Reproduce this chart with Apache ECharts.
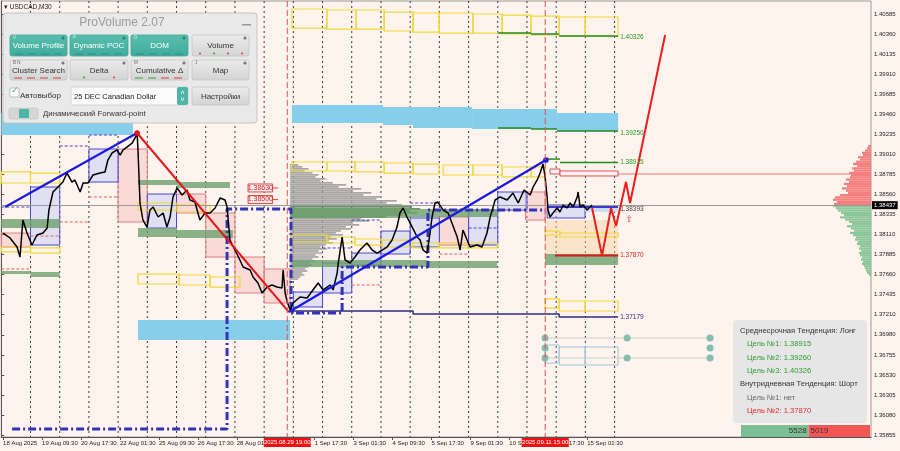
<!DOCTYPE html>
<html><head><meta charset="utf-8">
<script src="https://cdn.jsdelivr.net/npm/echarts@6/dist/echarts.min.js"></script>
<style>html,body{margin:0;padding:0;background:#fef4ed;}#c{width:900px;height:451px;}</style>
</head><body><div id="c"></div>
<script>
// ---------- DATA (x = trading-day index, 18 Aug 2025 = 0; y = price) ----------
const xLabelDays = [0.06, 1.396, 2.729, 4.0625, 5.396, 6.729, 8.0625, 10.729, 12.0625, 13.396, 14.729, 16.0625, 17.396, 18.729, 20.0625];
const xLabelTexts = ['18 Aug 2025','19 Aug 09:30','20 Aug 17:30','22 Aug 01:30','25 Aug 09:30','26 Aug 17:30','28 Aug 01:30','1 Sep 17:30','3 Sep 01:30','4 Sep 09:30','5 Sep 17:30','9 Sep 01:30','10 Sep 09:30','12 Sep 17:30','15 Sep 01:30'];
const yTickLabels = ['1.40585','1.40360','1.40135','1.39910','1.39685','1.39460','1.39235','1.39010','1.38785','1.38560','1.38335','1.38110','1.37885','1.37660','1.37435','1.37210','1.36980','1.36755','1.36530','1.36305','1.36080','1.35855'];
const daySeparators = [1,2,3,4,5,6,7,8,9,10,11,12,13,14,15,16,17,18,19,20,21];
const forwardPointDays = [9.7917, 18.625];
const forwardPointLabels = ['2025.08.29 19:00','2025.09.11 15:00'];
const currentPrice = 1.38437;

const priceDays = [0.06,0.30,0.54,0.64,0.74,0.88,1.05,1.22,1.43,1.57,1.63,1.77,1.94,2.11,2.25,2.42,2.52,2.70,2.80,2.97,3.14,3.38,3.55,3.65,3.79,3.96,4.07,4.17,4.30,4.48,4.58,4.65,4.68,4.75,4.85,4.99,5.09,5.20,5.37,5.54,5.67,5.78,5.88,6.02,6.19,6.36,6.46,6.63,6.80,6.98,7.15,7.32,7.49,7.66,7.73,7.83,8.00,8.17,8.28,8.52,8.62,8.79,8.93,9.10,9.27,9.44,9.61,9.65,9.72,9.79,9.89,9.99,10.23,10.47,10.67,10.85,11.02,11.26,11.36,11.50,11.53,11.67,11.77,11.94,12.11,12.28,12.52,12.70,12.87,13.04,13.21,13.38,13.55,13.65,13.76,13.89,14.07,14.24,14.34,14.44,14.58,14.68,14.75,14.85,14.95,15.13,15.30,15.43,15.61,15.71,15.81,15.95,16.05,16.29,16.46,16.63,16.74,16.91,17.08,17.32,17.52,17.70,17.90,18.11,18.21,18.35,18.45,18.55,18.62,18.69,18.72,18.79,18.89,19.03,19.13,19.24,19.37,19.48,19.58,19.72,19.75,19.82,19.92,20.06,20.16,20.23];
const priceValues = [1.38124,1.38068,1.37967,1.37854,1.38270,1.38124,1.37989,1.38102,1.38124,1.38180,1.38382,1.38585,1.38641,1.38697,1.38798,1.38697,1.38720,1.38585,1.38686,1.38686,1.38776,1.38798,1.38810,1.38944,1.39023,1.39057,1.39000,1.39057,1.39090,1.39135,1.39192,1.39248,1.39057,1.38461,1.38270,1.38191,1.38382,1.38416,1.38304,1.38349,1.38191,1.38304,1.38529,1.38630,1.38551,1.38607,1.38495,1.38472,1.38270,1.38349,1.38349,1.38405,1.38517,1.38495,1.38416,1.38045,1.37933,1.37821,1.37742,1.37708,1.37630,1.37562,1.37450,1.37517,1.37540,1.37517,1.37506,1.37708,1.37450,1.37349,1.37259,1.37338,1.37405,1.37394,1.37484,1.37562,1.37484,1.37540,1.37484,1.37674,1.37764,1.38079,1.37821,1.37787,1.37854,1.37933,1.38012,1.37933,1.37899,1.37933,1.37967,1.38045,1.38191,1.38349,1.38405,1.38304,1.38191,1.38079,1.38045,1.37933,1.37899,1.38124,1.38304,1.38461,1.38472,1.38382,1.38349,1.38236,1.38079,1.37933,1.38158,1.38045,1.37967,1.37989,1.37967,1.38124,1.38304,1.38495,1.38529,1.38495,1.38573,1.38461,1.38607,1.38551,1.38641,1.38720,1.38798,1.38900,1.38753,1.38529,1.38382,1.38304,1.38349,1.38405,1.38360,1.38439,1.38405,1.38461,1.38416,1.38529,1.38585,1.38416,1.38439,1.38382,1.38416,1.38437];

const trendBlue1 = [[0.13,1.38416],[4.65,1.39248]];
const trendRed = [[4.65,1.39248],[9.85,1.37236]];
const trendBlue2 = [[9.85,1.37236],[18.65,1.38944]];
const forecastDays = [20.23,20.57,20.88,21.05,21.39,21.53,22.73];
const forecastValues = [1.38405,1.37870,1.38405,1.38203,1.38697,1.38461,1.40349];
const dashDotDays = [0.37,7.73,7.73,9.92,9.92,11.67,11.67,14.61,14.61,18.62];
const dashDotValues = [1.35922,1.35922,1.38394,1.38394,1.37225,1.37225,1.37742,1.37742,1.38382,1.38382];
const navyDays = [9.89,14.10,14.10,19.10,19.10,21.12];
const navyValues = [1.37248,1.37248,1.37214,1.37214,1.37179,1.37179];

// boxes: [dayFrom, dayTo, priceA, priceB]
const blueBoxes = [[1,2,1.38641,1.37989],[3,4,1.39068,1.38697],[5,6,1.38562,1.38180],[10,11,1.37461,1.37293],[11,12,1.37787,1.37450],[12,13,1.37899,1.37764],[13,14,1.38146,1.37888],[14,15,1.38293,1.37967],[16,17,1.38382,1.37989],[17,18,1.38585,1.38382],[18.69,19.99,1.38439,1.38293]];
const pinkBoxes = [[0,1,1.38124,1.37967],[4,5,1.39068,1.38248],[6,7,1.38562,1.38349],[7,8,1.38349,1.37854],[8,9,1.37854,1.37450],[9,9.89,1.37720,1.37338],[15,16,1.38304,1.37989],[17.95,18.62,1.38585,1.38270]];
const yellowBoxes = [[0,1,1.38810,1.38686],[1,2,1.38798,1.38686],[0,1,1.37967,1.37911],[1,2,1.37956,1.37899],
 [4.68,6.02,1.38461,1.38382],[6.02,7.15,1.38439,1.38360],[4.68,6.09,1.37663,1.37551],[6.09,7.15,1.37652,1.37540],[7.15,8.17,1.37630,1.37517],
 [9.95,11.15,1.38922,1.38821],[11.15,12.11,1.38922,1.38821],[12.11,13.11,1.38922,1.38810],[13.11,14.10,1.38911,1.38798],[14.10,14.99,1.38899,1.38787],[15.13,16.15,1.38888,1.38776],[16.15,17.15,1.38888,1.38776],[17.15,18.14,1.38866,1.38754],[18.14,18.62,1.38866,1.38754],
 [9.95,11.15,1.38102,1.38023],[11.15,12.11,1.38079,1.38012],[12.11,13.04,1.38057,1.37989],[13.04,14.10,1.38045,1.37967],[14.10,14.99,1.38012,1.37956],[14.99,15.98,1.38012,1.37956],[15.98,16.98,1.38012,1.37956],
 [18.62,19.13,1.38146,1.38102],[19.13,21.12,1.38124,1.38079],
 [18.62,19.10,1.37383,1.37281],[19.10,19.99,1.37360,1.37248],[19.99,21.12,1.37360,1.37248],
 [9.95,11.15,1.40641,1.40427],[11.15,12.15,1.40630,1.40416],[12.15,13.11,1.40630,1.40416],[13.11,14.10,1.40607,1.40394],[14.10,14.99,1.40596,1.40382],[14.99,16.15,1.40596,1.40371],[16.15,17.15,1.40585,1.40371],[17.15,18.14,1.40573,1.40360],[18.14,19.10,1.40562,1.40349],[19.10,19.99,1.40551,1.40338],[19.99,21.12,1.40551,1.40338]];
const greenBands = [[0,1,1.38281,1.38180],[1,2,1.38281,1.38180],[4.68,6.02,1.38720,1.38663],[6.02,7.83,1.38697,1.38630],[4.68,6.02,1.38180,1.38079],[6.02,7.93,1.38158,1.38068],[0,1,1.37697,1.37663],[1,2,1.37686,1.37630],
 [9.89,14.0,1.38405,1.38293],[14.0,17.0,1.38394,1.38304],[9.95,14.6,1.37821,1.37742],[14.6,16.98,1.37810,1.37731],[18.62,21.12,1.37888,1.37764]];
const skyBands = [[0.001,4.51,1.39472,1.39225],[4.68,9.89,1.37146,1.36922],[9.95,13.07,1.39562,1.39360],[13.07,14.10,1.39540,1.39338],[14.10,16.12,1.39540,1.39304],[16.12,19.03,1.39517,1.39293],[19.03,21.12,1.39472,1.39270]];
const peachZone = [[18.62,21.12,1.38270,1.37877]];
const lightBlueFill = [[19.99,21.12,1.38439,1.38360]];
const redOutlineBoxes = [[18.79,19.13,1.38843,1.38787],[19.13,21.12,1.38821,1.38765]];
const cyanOutlineBoxes = [[18.62,19.10,1.36866,1.36663],[19.10,19.99,1.36843,1.36641],[19.99,21.12,1.36843,1.36641]];
// segments: [dayFrom, dayTo, price]
const greenLevelSegs = [[17.01,18.14,1.40371],[18.14,19.10,1.40360],[19.10,21.12,1.40338],[17.01,18.14,1.39304],[18.14,19.03,1.39293],[19.03,21.12,1.39270],[18.65,19.13,1.38955],[19.13,21.12,1.38915]];
const redTargetSegs = [[18.96,21.12,1.37870]];
const blueLevelSegs = [[18.69,21.12,1.38416]];
const blueDashedSegs = [[0,1,1.38416],[2,3,1.39102],[3,4,1.39225],[11,12,1.37956],[12,13,1.38270],[14,15,1.38461],[16,17,1.38180]];
const redDashedSegs = [[0,1,1.37720],[1,2,1.38090],[2,3,1.38248],[3,4,1.38529],[12,13,1.37540],[15,16,1.37888]];
const pinkLevelSegs = [[21.12,29.78,1.38787]];
const levelLabels = [[21.19,1.40326,'1.40326','g'],[21.19,1.39250,'1.39250','g'],[21.19,1.38915,'1.38915','g'],[21.19,1.38393,'1.38393','k'],[21.19,1.37870,'1.37870','r'],[21.19,1.37179,'1.37179','n']];
const priceTags = [[8.45,9.29,9.48,1.38630,'1.38630'],[8.45,9.29,9.48,1.38500,'1.38500']];
const pivotDots = [[4.65,1.39248,'r'],[18.65,1.38944,'b']];
const channelDays = [18.62,21.43,24.27];
const channelLevels = [1.36944,1.36832,1.36720];

// volume profile on the right edge (bins from top, red above current price)
const rightProfileTop = 1.39100, rightProfileStep = 0.00025;
const rightProfileVol = [3,4,6,9,8,13,11,15,18,14,19,17,22,20,21,25,22,27,24,29,25,23,31,36,38,34,37,38,35,33,30,27,31,26,22,19,24,20,17,21,18,15,16,13,14,11,12,10,12,11,9,10,8,9,7,6,5,4,2];
// session volume profile anchored at 29 Aug 19:00
const grayProfileStart = 9.89, grayProfileTop = 1.38888, grayProfileStep = 0.000225;
const grayProfileVol = [8,12,18,14,22,28,25,35,30,42,55,48,70,62,80,72,90,85,105,95,110,120,128,118,125,110,95,70,78,62,68,55,60,50,45,52,40,46,38,42,35,30,36,28,32,25,28,22,25,20,22,18,15,17,12,14,10,8];
const grayProfilePocRows = [21,22,23,24,25,26];
const buyVolume = 5528, sellVolume = 5019;

// ---------- CHART ----------
const chart = echarts.init(document.getElementById('c'), null, {renderer:'canvas', width:900, height:451});
const FONT = 'Liberation Sans';
const X_MAX = 29.78, Y_MIN = 1.35832, Y_MAX = 1.40731;

function rectSeries(name, data, style, z){
  return {type:'custom', name, z, silent:true, clip:false, data, renderItem:(params, api)=>{
    const a = api.coord([api.value(0), api.value(2)]);
    const b = api.coord([api.value(1), api.value(3)]);
    return {type:'rect', shape:{x:Math.min(a[0],b[0]), y:Math.min(a[1],b[1]), width:Math.abs(b[0]-a[0]), height:Math.abs(b[1]-a[1])}, style:Object.assign({}, style)};
  }};
}
function segSeries(name, data, style, z){
  return {type:'custom', name, z, silent:true, data, renderItem:(params, api)=>{
    const a = api.coord([api.value(0), api.value(2)]);
    const b = api.coord([api.value(1), api.value(2)]);
    return {type:'line', shape:{x1:a[0], y1:a[1], x2:b[0], y2:b[1]}, style:Object.assign({}, style)};
  }};
}
function lineSeries(name, pts, color, width, z, type){
  return {type:'line', name, z, data:pts, showSymbol:false, symbol:'none', silent:true,
    lineStyle:{color, width, type:type||'solid'}};
}
const zip = (a,b)=>a.map((v,i)=>[v,b[i]]);
const colorMap = {g:'#239a23', k:'#444444', r:'#e41b1b', n:'#2d2d80'};

const series = [];
series.push({type:'custom', name:'days', z:1, silent:true, data:daySeparators.map(d=>[d]), renderItem:(params, api)=>{
  const x = api.coord([api.value(0), Y_MAX])[0];
  const cs = params.coordSys;
  return {type:'line', shape:{x1:x, y1:cs.y, x2:x, y2:cs.y+cs.height}, style:{stroke:'#3a3a3a', lineWidth:1, lineDash:[2,3]}};
}});
series.push(rectSeries('sky', skyBands, {fill:'#87ceeb'}, 2));
series.push(rectSeries('peach', peachZone, {fill:'rgba(250,208,160,0.45)'}, 2));
series.push(rectSeries('pink', pinkBoxes, {fill:'rgba(240,170,175,0.35)', stroke:'#e08080', lineWidth:1}, 3));
series.push(rectSeries('blueBox', blueBoxes, {fill:'rgba(190,200,250,0.45)', stroke:'#4848d0', lineWidth:1}, 3));
series.push(rectSeries('lightBlue', lightBlueFill, {fill:'#c8def2'}, 3));
series.push({type:'custom', name:'grayProfile', z:3, silent:true, data:grayProfileVol.map((v,i)=>[i,v]), renderItem:(params, api)=>{
  const i = api.value(0), v = api.value(1);
  const p = grayProfileTop - i*grayProfileStep;
  const a = api.coord([grayProfileStart, p + grayProfileStep/2]);
  const b = api.coord([grayProfileStart + v/128*4.45, p - grayProfileStep/2]);
  const poc = grayProfilePocRows.indexOf(i) >= 0;
  return {type:'rect', shape:{x:a[0], y:a[1], width:b[0]-a[0], height:Math.max(1,b[1]-a[1]-0.3)}, style:{fill: poc ? '#5d8b5d' : '#9d9d9d', opacity:0.9}};
}});
series.push(rectSeries('green', greenBands, {fill:'rgba(110,160,110,0.8)'}, 3));
series.push(rectSeries('yellow', yellowBoxes, {fill:'none', stroke:'#f0d838', lineWidth:1.2}, 4));
series.push(rectSeries('redOutline', redOutlineBoxes, {fill:'#fdf1f1', stroke:'#d85050', lineWidth:1}, 4));
series.push(rectSeries('cyanOutline', cyanOutlineBoxes, {fill:'none', stroke:'#9cc8e0', lineWidth:1}, 4));
series.push(segSeries('blueDash', blueDashedSegs, {stroke:'#4646d0', lineWidth:1, lineDash:[3,2]}, 4));
series.push(segSeries('redDash', redDashedSegs, {stroke:'#e06060', lineWidth:1, lineDash:[3,2]}, 4));
series.push(segSeries('pinkLevel', pinkLevelSegs, {stroke:'#e07a7a', lineWidth:1}, 4));
series.push({type:'custom', name:'rightProfile', xAxisIndex:1, z:4, silent:true, data:rightProfileVol.map((v,i)=>[i,v]), renderItem:(params, api)=>{
  const i = api.value(0), v = api.value(1);
  const p = rightProfileTop - i*rightProfileStep;
  const a = api.coord([0, p + rightProfileStep/2]);
  const b = api.coord([v, p - rightProfileStep/2]);
  return {type:'rect', shape:{x:b[0], y:a[1], width:a[0]-b[0], height:b[1]-a[1]}, style:{fill: p > currentPrice ? '#f47f7f' : '#8cc79a'}};
}});
series.push({type:'line', name:'price', z:6, data:zip(priceDays, priceValues), showSymbol:false, symbol:'none', silent:true,
  lineStyle:{color:'#000', width:1.5},
  markLine:{silent:true, symbol:'none', precision:5, animation:false, data:[{yAxis:currentPrice}], lineStyle:{color:'#9a9a9a', width:1, type:'solid'},
    label:{show:true, position:'end', distance:1, formatter:'1.38437', backgroundColor:'#000', color:'#fff', fontSize:6, fontFamily:FONT, padding:[1,2]}}});
series.push(lineSeries('dashDot', zip(dashDotDays, dashDotValues), '#3333b8', 3, 5, [8,3,2,3]));
series.push(lineSeries('navy', zip(navyDays, navyValues), '#2d2d80', 1.5, 5));
series.push(segSeries('greenLevels', greenLevelSegs, {stroke:'#1e8c1e', lineWidth:1.5}, 6));
series.push(segSeries('redTarget', redTargetSegs, {stroke:'#e01818', lineWidth:2}, 6));
series.push(segSeries('blueLevel', blueLevelSegs, {stroke:'#3a3ad0', lineWidth:2}, 6));
series.push(lineSeries('trendBlue1', trendBlue1, '#1a1ae0', 2.2, 7));
series.push(lineSeries('trendRed', trendRed, '#e4141c', 2, 7));
series.push(lineSeries('trendBlue2', trendBlue2, '#1a1ae0', 2.2, 7));
series.push(lineSeries('forecast', zip(forecastDays, forecastValues), '#ee1c1c', 2, 7));
series.push({type:'custom', name:'channel', z:6, silent:true, clip:false, data:[[0]], renderItem:(params, api)=>{
  const ch = [];
  [channelLevels[0], channelLevels[2]].forEach(lv=>{
    const a = api.coord([channelDays[0], lv]), b = api.coord([channelDays[2], lv]);
    ch.push({type:'line', shape:{x1:a[0],y1:a[1],x2:b[0],y2:b[1]}, style:{stroke:'#c8d0cc', lineWidth:1}});
  });
  channelDays.forEach((d,di)=>channelLevels.forEach((lv,li)=>{
    if (di===1 && li===1) return;
    const c = api.coord([d, lv]);
    ch.push({type:'circle', shape:{cx:c[0], cy:c[1], r:3.5}, style:{fill:'#86bdb0'}});
  }));
  return {type:'group', children:ch};
}});
series.push({type:'custom', name:'dots', z:8, silent:true, data:pivotDots.map(d=>[d[0],d[1]]), renderItem:(params, api)=>{
  const c = api.coord([api.value(0), api.value(1)]);
  return {type:'circle', shape:{cx:c[0], cy:c[1], r:2.8}, style:{fill: pivotDots[params.dataIndex][2]==='r' ? '#e4141c' : '#1a1ae0'}};
}});
series.push({type:'custom', name:'levelLabels', z:8, silent:true, clip:false, data:levelLabels.map(d=>[d[0],d[1]]), renderItem:(params, api)=>{
  const it = levelLabels[params.dataIndex];
  const c = api.coord([it[0], it[1]]);
  return {type:'text', x:c[0], y:c[1], style:{text:it[2], fill:colorMap[it[3]], font:'6.5px '+FONT, align:'left', verticalAlign:'middle'}};
}});
series.push({type:'custom', name:'tags', z:8, silent:true, data:priceTags.map(d=>[d[0],d[3]]), renderItem:(params, api)=>{
  const it = priceTags[params.dataIndex];
  const a = api.coord([it[0], it[3]]), b = api.coord([it[1], it[3]]), e = api.coord([it[2], it[3]]);
  return {type:'group', children:[
    {type:'line', shape:{x1:b[0], y1:b[1], x2:e[0], y2:e[1]}, style:{stroke:'#d84848', lineWidth:1}},
    {type:'rect', shape:{x:a[0], y:a[1]-4, width:b[0]-a[0], height:8}, style:{fill:'#fbe9e9', stroke:'#d84848', lineWidth:1}},
    {type:'text', x:(a[0]+b[0])/2, y:a[1], style:{text:it[4], fill:'#d02828', font:'7px '+FONT, align:'center', verticalAlign:'middle'}}
  ]};
}});
series.push({type:'custom', name:'arrow', z:8, silent:true, data:[[21.50,1.38270]], renderItem:(params, api)=>{
  const c = api.coord([api.value(0), api.value(1)]);
  return {type:'text', x:c[0], y:c[1], style:{text:'⇧', fill:'#e83030', font:'9px DejaVu Sans', align:'center', verticalAlign:'middle'}};
}});
series.push({type:'custom', name:'forward', z:9, silent:true, clip:false, data:forwardPointDays.map(d=>[d]), renderItem:(params, api)=>{
  const x = api.coord([api.value(0), Y_MAX])[0];
  const cs = params.coordSys;
  const txt = forwardPointLabels[params.dataIndex];
  return {type:'group', children:[
    {type:'line', shape:{x1:x, y1:cs.y, x2:x, y2:cs.y+cs.height}, style:{stroke:'#e05050', lineWidth:1, lineDash:[6,3]}},
    {type:'rect', shape:{x:x-23.5, y:cs.y+cs.height+1, width:47, height:9}, style:{fill:'#ee1111'}},
    {type:'text', x:x, y:cs.y+cs.height+5.7, style:{text:txt, fill:'#fff', font:'6px '+FONT, align:'center', verticalAlign:'middle'}}
  ]};
}});

// ---------- overlay panels ----------
const G = [];
const T = (x,y,text,fill,size,align,extra)=>G.push(Object.assign({type:'text', x, y, z:101, silent:true, style:{text, fill, font:(size||8)+'px '+FONT, align:align||'left', verticalAlign:'middle'}}, extra||{}));
G.push({type:'text', x:4, y:7, z:101, style:{text:'▾ USDCAD,M30', fill:'#222', font:'6.5px '+FONT, verticalAlign:'middle'}});
G.push({type:'rect', z:100, shape:{x:3, y:13, width:254, height:110, r:3}, style:{fill:'#e9e9e9', stroke:'#c4c4c4', lineWidth:1}});
T(122,23,'ProVolume 2.07','#9b9b9b',12,'center');
G.push({type:'rect', z:101, shape:{x:242, y:24, width:9, height:1.5}, style:{fill:'#999'}});
const buttons = [
  [10,35,57,21,'Volume Profile',true,'V'],[70,35,58,21,'Dynamic POC',true,'P'],[131,35,57,21,'DOM',true,'D'],[192,35,57,21,'Volume',false,''],
  [10,60,57,20,'Cluster Search',false,'B N'],[70,60,58,20,'Delta',false,''],[131,60,57,20,'Cumulative Δ',false,'M'],[192,60,57,20,'Map',false,'J']];
buttons.forEach(b=>{
  const [x,y,w,h,label,teal,tag] = b;
  G.push({type:'rect', z:100, shape:{x,y,width:w,height:h,r:2}, style:{fill: teal ? new echarts.graphic.LinearGradient(0,0,0,1,[{offset:0,color:'#58bfae'},{offset:1,color:'#41ab9b'}]) : new echarts.graphic.LinearGradient(0,0,0,1,[{offset:0,color:'#ececec'},{offset:1,color:'#d3d3d3'}]), stroke: teal ? '#3fa595' : '#c4c4c4', lineWidth:0.8}});
  T(x+w/2, y+h/2+0.5, label, teal ? '#ffffff' : '#333333', 8, 'center');
  if (tag) T(x+3, y+3, tag, teal ? '#d8f0ec' : '#666', 4.5, 'left');
  G.push({type:'circle', z:101, shape:{cx:x+w-4, cy:y+3, r:1.6}, style:{fill: teal ? '#2f7f73' : '#777'}});
  const dy = y+h-2.5;
  if (teal) { for (let k=0;k<4;k++) G.push({type:'rect', z:101, shape:{x:x+5+k*13, y:dy, width:8, height:1}, style:{fill:'#2e8f80'}}); }
  else if (label==='Volume') { ['#d04040','#30a030','#d04040','#d04040'].forEach((c,k)=>G.push({type:'circle', z:101, shape:{cx:x+8+k*14, cy:dy, r:1}, style:{fill:c}})); }
  else if (label==='Delta') { G.push({type:'circle', z:101, shape:{cx:x+14, cy:dy, r:1}, style:{fill:'#30a030'}}); G.push({type:'circle', z:101, shape:{cx:x+44, cy:dy, r:1}, style:{fill:'#d04040'}}); }
  else if (label!=='Map') { for (let k=0;k<4;k++) G.push({type:'rect', z:101, shape:{x:x+4+k*13, y:dy, width:8, height:1}, style:{fill: label==='Cumulative Δ' && k<2 ? '#30a030' : '#d04040'}}); }
});
G.push({type:'rect', z:100, shape:{x:10, y:88, width:9, height:9, r:1}, style:{fill:'#fff', stroke:'#aaa', lineWidth:0.8}});
T(11,91,'✓','#39a898',9,'left',{style:{text:'✓', fill:'#39a898', font:'bold 9px DejaVu Sans', verticalAlign:'middle'}});
T(20,96,'Автовыбор','#333',8);
G.push({type:'rect', z:100, shape:{x:71, y:87, width:117, height:18, r:2}, style:{fill:'#fbfbfb', stroke:'#cccccc', lineWidth:0.8}});
T(74,96.5,'25 DEC Canadian Dollar','#222',7.5);
G.push({type:'rect', z:100, shape:{x:177, y:87, width:11, height:18, r:2}, style:{fill:'#4db5a5'}});
T(182.5,93,'˄','#fff',7,'center'); T(182.5,100,'˅','#fff',7,'center');
G.push({type:'rect', z:100, shape:{x:192, y:87, width:57, height:18, r:2}, style:{fill:new echarts.graphic.LinearGradient(0,0,0,1,[{offset:0,color:'#ececec'},{offset:1,color:'#d3d3d3'}]), stroke:'#c4c4c4', lineWidth:0.8}});
T(220.5,96.5,'Настройки','#333',8,'center');
G.push({type:'rect', z:100, shape:{x:9, y:108, width:29, height:11, r:2}, style:{fill:'#d6d6d6', stroke:'#c0c0c0', lineWidth:0.6}});
G.push({type:'rect', z:101, shape:{x:19, y:109, width:10, height:9}, style:{fill:'#4db5a5'}});
T(43,114,'Динамический Forward-point','#333',7.8);
G.push({type:'rect', z:100, shape:{x:733, y:320, width:134, height:103, r:4}, style:{fill:'#e6e6e6'}});
const info = [['Среднесрочная Тенденция: Лонг','#333',740],['Цель №1: 1.38915','#2e9a2e',747],['Цель №2: 1.39260','#2e9a2e',747],['Цель №3: 1.40326','#2e9a2e',747],['Внутридневная Тенденция: Шорт','#333',740],['Цель №1: нет','#666',747],['Цель №2: 1.37870','#e02a2a',747]];
info.forEach((r,i)=>T(r[2], 331+i*13.3, r[0], r[1], 7.6));
const barX = 741, barW = 129;
const buyW = barW*buyVolume/(buyVolume+sellVolume);
G.push({type:'rect', z:100, shape:{x:barX, y:425, width:buyW, height:12}, style:{fill:'#7dbf94'}});
G.push({type:'rect', z:100, shape:{x:barX+buyW, y:425, width:barW-buyW, height:12}, style:{fill:'#f45656'}});
T(barX+buyW-2, 431, String(buyVolume), '#333', 8, 'right');
T(barX+buyW+2, 431, String(sellVolume), '#333', 8, 'left');

const yVals = yTickLabels.map(Number);
chart.setOption({
  animation:false,
  backgroundColor:'#fef4ed',
  grid:{left:1.3, right:29, top:1, bottom:14, show:true, borderColor:'#9a9a9a', borderWidth:1, backgroundColor:'transparent'},
  xAxis:[
    {type:'value', min:0, max:X_MAX, position:'bottom',
      axisLine:{show:true, lineStyle:{color:'#555'}}, splitLine:{show:false},
      axisTick:{show:true, customValues:xLabelDays, length:3, lineStyle:{color:'#555'}},
      axisLabel:{customValues:xLabelDays, fontSize:6, fontFamily:FONT, color:'#222', align:'left', margin:3,
        formatter:(v)=>{const i = xLabelDays.findIndex(d=>Math.abs(d-v)<1e-6); return i>=0 ? xLabelTexts[i] : '';}}},
    {type:'value', min:0, max:870, inverse:true, show:false}
  ],
  yAxis:[{type:'value', min:Y_MIN, max:Y_MAX, position:'right', scale:true,
    axisLine:{show:true, lineStyle:{color:'#555'}}, splitLine:{show:false},
    axisTick:{show:true, customValues:yVals, length:3, lineStyle:{color:'#555'}},
    axisLabel:{customValues:yVals, fontSize:6, fontFamily:FONT, color:'#222', margin:3,
      formatter:(v)=>{const i = yVals.findIndex(d=>Math.abs(d-v)<1e-7); return i>=0 ? yTickLabels[i] : '';}}}],
  series,
  graphic:G
});
</script></body></html>
